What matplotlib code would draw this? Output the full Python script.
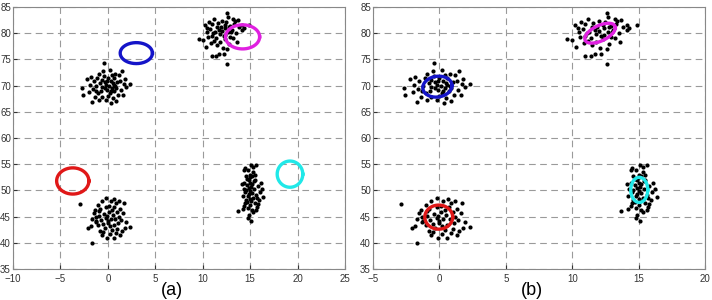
import numpy as np
import matplotlib
matplotlib.use("Agg")
import matplotlib.pyplot as plt

plt.rcParams['font.family'] = ['Liberation Sans', 'DejaVu Sans']

# cluster around (0, 70)
a_pts = [(-0.4,74.4),(2.3,70.4),(-2.7,69.5),(-2.6,68.2),(-1.7,66.9),(0.35,66.6),(1.5,72.8),(1.8,71.2),
         (-2.2,71.2),(0.2,73.0),(-0.9,72.2),(0.8,72.3),(1.2,72.0),(-1.5,70.8),(-1.2,69.9),(-1.9,70.1),
         (-1.0,68.5),(-0.6,67.8),(-0.2,67.3),(0.5,67.6),(1.1,68.2),(1.6,68.3),(1.4,69.2),(0.9,69.5),
         (0.6,70.2),(0.3,70.8),(0.0,71.4),(-0.3,70.6),(-0.6,69.8),(-0.1,69.2),(0.2,68.6),(-0.8,70.5),
         (-0.4,71.8),(0.6,71.5),(1.0,70.6),(-1.3,68.9),(-1.6,69.4),(-0.7,68.9),(0.1,70.0),(0.4,69.6),
         (-0.2,70.2),(0.7,68.9),(-1.1,71.5),(-0.5,72.8),(0.4,72.0),(1.3,70.9),(-2.0,68.8),(-0.9,67.2),
         (0.0,68.0),(0.9,67.0),(1.9,69.8),(-1.4,67.8),(0.3,69.0),(-0.3,69.5),(0.5,70.5),(-0.1,70.9),
         (0.8,70.0),(-0.6,71.1),(1.7,70.3),(-1.8,71.6)]
# cluster around (0, 45)
b_pts = [(-2.9,47.4),(-1.7,40.0),(2.3,43.1),(-2.1,42.8),(-1.8,43.2),(-1.7,44.6),(-0.2,48.5),(0.65,48.3),
         (1.2,47.9),(1.7,47.6),(-0.1,40.9),(0.9,41.8),(-0.6,41.4),(1.3,41.5),(0.3,48.0),(-0.6,47.9),
         (-1.0,47.2),(-1.4,46.3),(-0.8,46.5),(0.1,47.0),(0.7,46.9),(1.3,46.5),(1.6,45.6),(1.0,45.9),
         (0.5,45.4),(0.1,45.9),(-0.4,45.5),(-0.9,45.2),(-1.3,44.9),(-1.2,44.2),(-0.7,44.4),(-0.2,44.8),
         (0.3,44.5),(0.8,44.6),(1.4,44.3),(1.9,44.0),(1.1,43.7),(0.6,43.4),(0.0,43.8),(-0.5,43.5),
         (-1.0,43.4),(-0.3,42.9),(0.4,42.5),(1.0,42.7),(1.5,42.3),(-0.8,42.2),(0.2,41.7),(-1.3,43.9),
         (0.0,44.2),(0.4,46.3),(-0.2,46.8),(0.9,47.6),(-1.5,45.6),(1.8,42.9),(-0.5,42.0),(0.6,41.0),
         (-0.9,46.0),(0.2,43.2),(1.2,45.0),(-0.1,45.2)]
# cluster around (12, 80)
c_pts = [(9.6,78.8),(10.0,78.7),(10.3,77.4),(10.95,75.6),(11.4,75.6),(11.7,76.1),(12.2,76.1),(12.6,74.2),
         (12.6,83.9),(12.9,79.3),(13.6,78.3),(14.1,80.6),(14.1,81.5),(13.7,82.5),(13.2,82.8),(11.2,82.8),
         (10.2,81.5),(10.7,82.1),(14.9,81.5),(10.5,80.2),(10.8,80.8),(11.0,79.5),(11.3,80.3),(11.5,81.2),
         (11.8,79.8),(12.0,80.5),(12.2,79.4),(12.4,80.9),(12.7,80.2),(12.9,81.4),(13.1,80.7),(13.3,81.8),
         (13.5,80.0),(13.8,81.2),(12.5,82.1),(12.0,82.4),(11.6,82.0),(11.0,81.7),(10.6,79.3),(11.2,78.6),
         (11.8,78.3),(12.3,78.8),(12.8,78.0),(13.2,79.0),(12.1,77.2),(11.5,77.7),(12.6,77.0),(11.9,81.1),
         (12.3,81.6),(11.4,79.0),(10.9,78.2),(13.4,82.3),(12.7,83.0),(14.3,80.9),(10.4,81.0),(11.7,80.6),
         (12.4,79.7),(13.0,80.3),(11.1,80.0),(12.8,81.1)]
# cluster around (15, 50)
d_pts = [(13.7,46.0),(15.1,44.1),(14.9,45.3),(16.4,48.8),(16.1,51.5),(15.6,54.8),(15.1,54.8),(14.4,53.9),
         (15.7,46.9),(15.2,46.3),(14.5,47.6),(14.6,52.8),(15.3,53.5),(14.8,53.9),(15.0,52.5),(15.5,52.0),
         (14.4,51.5),(14.7,51.0),(15.2,51.2),(15.8,50.8),(14.3,50.3),(14.9,50.5),(15.4,50.2),(16.0,49.7),
         (14.5,49.6),(15.0,49.8),(15.6,49.2),(14.2,49.0),(14.8,48.9),(15.3,48.6),(15.9,48.2),(14.6,48.2),
         (15.1,47.9),(14.4,47.0),(15.0,47.2),(15.5,47.5),(14.8,46.6),(15.3,45.8),(14.2,46.5),(15.7,48.6),
         (14.7,52.2),(15.2,52.8),(15.0,51.5),(14.6,50.0),(15.1,50.7),(15.4,51.7),(14.9,49.3),(15.2,49.5),
         (14.7,47.8),(15.5,53.0),(14.5,54.3),(15.3,54.5),(15.0,48.3),(15.8,47.4),(14.1,51.2),(16.2,50.2),
         (15.0,53.0),(14.8,44.8),(15.6,46.2),(14.9,51.9)]

# ellipses: (color, mean_x, mean_y, sd_x, sd_y, rho)
ell_a = [('#e01818', -3.7, 51.8, 1.7, 2.5, 0.0),
         ('#1414c8', 3.0, 76.2, 1.7, 2.0, 0.0),
         ('#e020e0', 14.2, 79.3, 1.8, 2.3, 0.0),
         ('#20e8e8', 19.2, 53.1, 1.35, 2.5, 0.0)]
ell_b = [('#1414c8', -0.15, 69.8, 1.1, 2.0, 0.1),
         ('#e01818', -0.05, 44.9, 1.05, 2.3, 0.0),
         ('#e020e0', 12.1, 80.0, 1.15, 1.9, 0.55),
         ('#20e8e8', 15.05, 50.1, 0.64, 2.4, 0.0)]

pts = np.array(a_pts + b_pts + c_pts + d_pts)

fig = plt.figure(figsize=(7.12, 3.0), dpi=100)
ax1 = fig.add_axes([13/712, 31/300, 332/712, 262/300])
ax2 = fig.add_axes([373/712, 31/300, 332/712, 262/300])

t = np.linspace(0, 2*np.pi, 200)
for ax, ells, xlim, lab in [(ax1, ell_a, (-10, 25), '(a)'), (ax2, ell_b, (-5, 20), '(b)')]:
    ax.plot(pts[:, 0], pts[:, 1], 'o', color='black', markersize=3.0, markeredgewidth=0)
    for col, mx, my, sx, sy, rho in ells:
        cov = np.array([[sx*sx, rho*sx*sy], [rho*sx*sy, sy*sy]])
        L = np.linalg.cholesky(cov)
        xy = L @ np.vstack([np.cos(t), np.sin(t)])
        ax.plot(mx + xy[0], my + xy[1], color=col, linewidth=2.4)
    ax.set_xlim(*xlim)
    ax.set_ylim(35, 85)
    ax.set_xticks(np.arange(xlim[0], xlim[1] + 1, 5))
    ax.set_yticks(np.arange(35, 86, 5))
    ax.grid(True, linestyle=(0, (6, 4)), color='#9a9a9a', linewidth=0.8)
    ax.tick_params(direction='in', length=3, labelsize=7, colors='#333333')
    ax.tick_params(axis='x', pad=3.5)
    ax.tick_params(axis='y', pad=1.5)
    for s in ax.spines.values():
        s.set_color('#888888')
    fig.text(ax.get_position().x0 + ax.get_position().width*0.48, 0.06, lab,
             ha='center', va='top', fontsize=13)

fig.savefig('out.png', dpi=100)
